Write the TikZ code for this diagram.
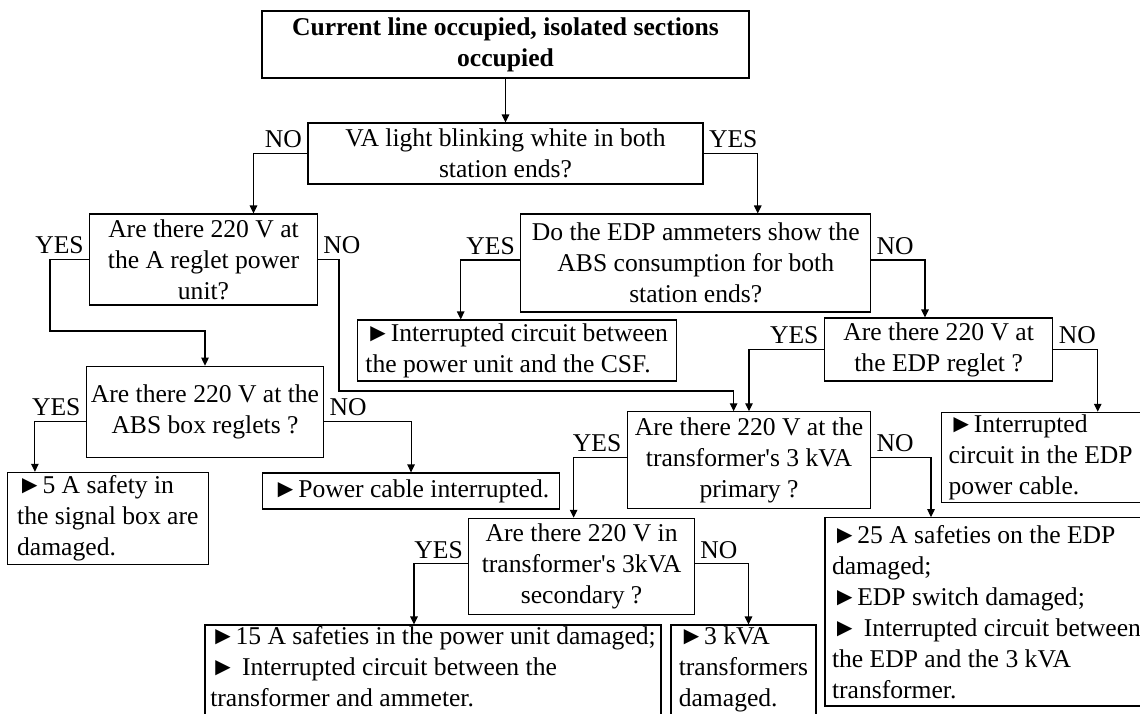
\documentclass[tikz,border=0pt]{standalone}
\usepackage{fontspec}
\setmainfont{Liberation Serif}
\usetikzlibrary{arrows.meta}

\begin{document}
\begin{tikzpicture}[x=1pt,y=1pt]
			\tikzstyle{every node}+=[font=\fontsize{25.6}{31}\selectfont]
			\tikzstyle{ask}=[draw, black, line width=1.1pt, align=center, inner xsep=2pt, inner ysep=0pt]
			\tikzstyle{fault}=[draw, black, line width=1.1pt, align=flush left, inner xsep=4pt, inner ysep=0pt]
			\tikzstyle{flow}=[black, line width=1.1pt, -{Triangle[length=8pt,width=7.5pt]}]
			\tikzstyle{lbl}=[inner sep=5pt]
			\useasboundingbox (0,0) rectangle (1140,-713);
			\clip (0,0) rectangle (1140,-713);
			% questions
			\node [ask, minimum width=487pt, minimum height=67pt] (start) at (505.5,-44.5) {\textbf{Current line occupied, isolated sections}\\\textbf{occupied}};
			\node [ask, minimum width=395pt, minimum height=61pt] (q2) at (505.5,-153.5) {VA light blinking white in both\\station ends?};
			\node [ask, minimum width=227.5pt, minimum height=91pt] (q3) at (203.5,-259.5) {Are there 220 V at\\the A reglet power\\unit?};
			\node [ask, minimum width=349.7pt, minimum height=98pt] (q5) at (695.75,-263) {Do the EDP ammeters show the\\ABS consumption for both\\station ends?};
			\node [ask, minimum width=228.2pt, minimum height=63pt] (q7) at (938.6,-349.5) {Are there 220 V at\\the EDP reglet ?};
			\node [ask, minimum width=237pt, minimum height=91pt] (q4) at (205,-411.7) {Are there 220 V at the\\ABS box reglets ?};
			\node [ask, minimum width=243.2pt, minimum height=97pt] (q6) at (749,-460.3) {Are there 220 V at the\\transformer\textquotesingle s 3 kVA\\primary ?};
			\node [ask, minimum width=225.4pt, minimum height=96pt] (q8) at (581.6,-566.3) {Are there 220 V in\\transformer\textquotesingle s 3kVA\\secondary ?};
			% faults
			\node [fault, minimum width=318.7pt, minimum height=61pt] (r1) at (516.7,-350.5) {►Interrupted circuit between\\the power unit and the CSF.};
			\node [fault, inner xsep=7pt, text width=204.5pt, minimum height=90.4pt] (r2) at (1050.75,-457.5) {►Interrupted\\circuit in the EDP\\power cable.};
			\node [fault, minimum width=201pt, minimum height=91.7pt] (r3) at (107.8,-518.2) {►5 A safety in\\the signal box are\\damaged.};
			\node [fault, align=center, minimum width=297.5pt, minimum height=36pt] (r4) at (411.05,-491) {►Power cable interrupted.};
			\node [fault, inner xsep=7pt, text width=321pt, minimum height=188.3pt] (r7) at (992.5,-611.85) {►25 A safeties on the EDP\\damaged;\\►EDP switch damaged;\\► Interrupted circuit between\\the EDP and the 3 kVA\\transformer.};
			\node [fault, text depth=7.5pt, minimum width=456pt, minimum height=90pt] (r5) at (433,-670) {►15 A safeties in the power unit damaged;\\► Interrupted circuit between the\\transformer and ammeter.};
			\node [fault, text depth=7.5pt, minimum width=145pt, minimum height=90pt] (r6) at (743.5,-670) {►3 kVA\\transformers\\damaged.};
			% connectors
			\coordinate (yes3) at (50,-331);
			\coordinate (no3) at (339,-391);
			\draw [flow] (start.south) -- (q2.north);
			\draw [flow] (q2.west) node [lbl, above left] {NO} -| ([xshift=50pt]q3.north);
			\draw [flow] (q2.east) node [lbl, above right] {YES} -| ([xshift=62pt]q5.north);
			\draw [flow] (q3.west) node [lbl, above left] {YES} -| (yes3) -| (q4.north);
			\draw [flow] (q3.east) node [lbl, above right] {NO} -| (no3) -| ([xshift=-15.4pt]q6.north);
			\draw [flow] ([yshift=3pt]q5.west) node [lbl, above left] {YES} -| ([xshift=-56pt]r1.north);
			\draw [flow] ([yshift=3pt]q5.east) node [lbl, above right] {NO} -| ([xshift=-13.6pt]q7.north);
			\draw [flow] (q7.west) node [lbl, above left] {YES} -| (q6.north);
			\draw [flow] (q7.east) node [lbl, above right] {NO} -| ([xshift=47pt]r2.north);
			\draw [flow] ([yshift=-9.5pt]q4.west) node [lbl, above left] {YES} -| ([xshift=-72.9pt]r3.north);
			\draw [flow] ([yshift=-9.5pt]q4.east) node [lbl, above right] {NO} -| (r4.north);
			\draw [flow] ([yshift=3pt]q6.west) node [lbl, above left] {YES} -| ([xshift=-8pt]q8.north);
			\draw [flow] ([yshift=3pt]q6.east) node [lbl, above right] {NO} -| ([xshift=-61.5pt]r7.north);
			\draw [flow] ([yshift=2.5pt]q8.west) node [lbl, above left] {YES} -| ([xshift=-19pt]r5.north);
			\draw [flow] ([yshift=2.5pt]q8.east) node [lbl, above right] {NO} -| ([xshift=5pt]r6.north);
		\end{tikzpicture}
\end{document}
